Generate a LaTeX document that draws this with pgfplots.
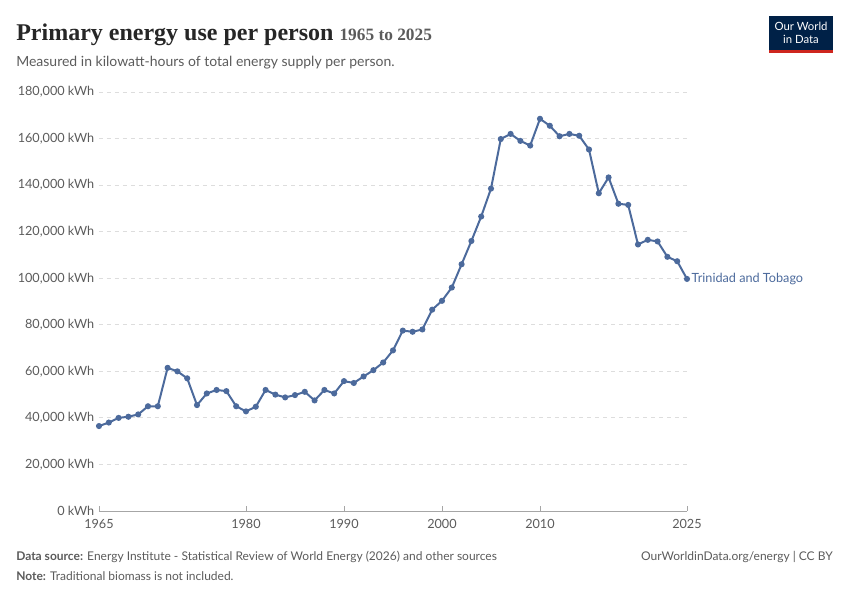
\documentclass[border=0pt]{standalone}
\usepackage{pgfplots}
\pgfplotsset{compat=1.18}
\usepackage{fontspec}
\setmainfont{Lato}
\newfontfamily\titlefont{Liberation Serif}
\definecolor{line}{HTML}{4C6A9C}
\definecolor{grid}{HTML}{DDDDDD}
\definecolor{txt}{HTML}{5B5B5B}
\definecolor{navy}{HTML}{002147}
\definecolor{owidred}{HTML}{CE261E}
\begin{document}
\begin{tikzpicture}[x=0.75pt,y=0.75pt]
\useasboundingbox (0,0) rectangle (850,-600);
\begin{axis}[at={(74.25pt,-383.25pt)},anchor=origin,
  scale only axis,width=441pt,height=314.25pt,
  xmin=1965,xmax=2025,ymin=0,ymax=180000,
  scaled y ticks=false,
  axis line style={draw=none},
  axis x line*=bottom, x axis line style={draw=gray!70,line width=0.6pt},
  xtick={1965,1980,1990,2000,2010,2025},
  xticklabels={1965,1980,1990,2000,2010,2025},
  xtick style={draw=gray!70}, major tick length=4pt,
  xticklabel style={yshift=-3pt},
  ytick={0,20000,...,180000},
  yticklabels={0 kWh,{20,000 kWh},{40,000 kWh},{60,000 kWh},{80,000 kWh},{100,000 kWh},{120,000 kWh},{140,000 kWh},{160,000 kWh},{180,000 kWh}},
  ytick style={draw=none},
  ymajorgrids, grid style={draw=grid,dashed,line width=0.6pt},
  tick label style={font=\fontsize{9.5}{11}\selectfont,text=txt},
  /pgf/number format/assume math mode=true,
  clip=false]
\addplot[line,line width=1.5pt,mark=*,mark size=1.5pt] coordinates {
(1965,36500)(1966,38000)(1967,40000)(1968,40500)(1969,41500)(1970,45000)
(1971,45000)(1972,61500)(1973,60000)(1974,57000)(1975,45500)(1976,50500)
(1977,52000)(1978,51500)(1979,45000)(1980,42800)(1981,44800)(1982,52000)
(1983,50000)(1984,48800)(1985,49800)(1986,51200)(1987,47500)(1988,52000)
(1989,50500)(1990,55800)(1991,55000)(1992,57800)(1993,60500)(1994,63800)
(1995,69000)(1996,77500)(1997,77000)(1998,78000)(1999,86500)(2000,90300)
(2001,96000)(2002,106000)(2003,116000)(2004,126500)(2005,138500)(2006,159800)
(2007,162000)(2008,159000)(2009,157000)(2010,168500)(2011,165500)(2012,161000)
(2013,162000)(2014,161200)(2015,155300)(2016,136500)(2017,143300)(2018,132000)
(2019,131500)(2020,114500)(2021,116500)(2022,115800)(2023,109200)(2024,107300)
(2025,99700)};
\node[anchor=west,text=line,font=\fontsize{9.5}{11}\selectfont] at (axis cs:2025,99700) {Trinidad and Tobago};
\end{axis}
\node[anchor=base west,font=\titlefont\bfseries\fontsize{18}{22}\selectfont,text=black!85,inner sep=0] at (16,-40) {Primary energy use per person \textcolor{txt}{\fontsize{13}{15}\selectfont 1965 to 2025}};
\node[anchor=base west,font=\fontsize{10.5}{12}\selectfont,text=txt,inner sep=0] at (16,-66) {Measured in kilowatt-hours of total energy supply per person.};
\fill[navy] (769,-16) rectangle (833,-50);
\fill[owidred] (769,-50) rectangle (833,-53);
\node[text=white,font=\fontsize{8.5}{9.5}\selectfont,align=center,inner sep=0] at (801,-33) {Our World\\in Data};
\node[anchor=base west,font=\fontsize{9}{11}\selectfont,text=txt,inner sep=0] at (16,-560) {\textbf{Data source:} Energy Institute - Statistical Review of World Energy (2026) and other sources};
\node[anchor=base east,font=\fontsize{9}{11}\selectfont,text=txt,inner sep=0] at (833,-560) {OurWorldinData.org/energy | CC BY};
\node[anchor=base west,font=\fontsize{9}{11}\selectfont,text=txt,inner sep=0] at (16,-580) {\textbf{Note:} Traditional biomass is not included.};
\end{tikzpicture}
\end{document}
